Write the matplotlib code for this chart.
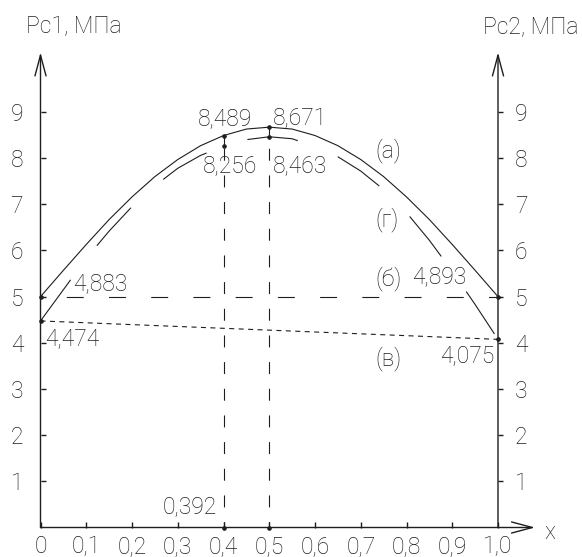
import matplotlib
matplotlib.use('Agg')
import matplotlib.pyplot as plt

plt.rcParams['font.family'] = ['Roboto', 'DejaVu Sans']
plt.rcParams['font.weight'] = 'light'
plt.rcParams['lines.scale_dashes'] = False

# ---------------- data ----------------
x_grid = [0.00, 0.05, 0.10, 0.15, 0.20, 0.25, 0.30, 0.35, 0.40, 0.45, 0.50,
          0.55, 0.60, 0.65, 0.70, 0.75, 0.80, 0.85, 0.90, 0.95, 1.00]
curve_a = [5.000, 5.57, 6.13, 6.67, 7.16, 7.60, 7.97, 8.27, 8.489, 8.63, 8.671,
           8.63, 8.49, 8.27, 7.97, 7.60, 7.16, 6.67, 6.13, 5.57, 5.000]
curve_g = [4.474, 5.15, 5.83, 6.42, 6.95, 7.40, 7.78, 8.06, 8.256, 8.40, 8.463,
           8.42, 8.25, 8.03, 7.72, 7.32, 6.82, 6.22, 5.55, 4.83, 4.075]
line_x = [0.0, 1.0]
line_b = [5.0, 5.0]
line_v = [4.474, 4.075]
mark_x = [0.4, 0.5]
mark_a = [8.489, 8.671]
mark_g = [8.256, 8.463]

x_ticks = [0.0, 0.1, 0.2, 0.3, 0.4, 0.5, 0.6, 0.7, 0.8, 0.9, 1.0]
x_tick_labels = ['0', '0,1', '0,2', '0,3', '0,4', '0,5', '0,6', '0,7', '0,8', '0,9', '1,0']
y_ticks = [1, 2, 3, 4, 5, 6, 7, 8, 9]
y_tick_labels = ['1', '2', '3', '4', '5', '6', '7', '8', '9']

labels = ['8,489', '8,671', '8,256', '8,463', '(а)', '(г)', '(б)', '4,893',
          '(в)', '4,075', '4,883', '4,474', '0,392']
label_x = [0.3443, 0.5082, 0.3552, 0.5075, 0.7311, 0.7311, 0.7311, 0.8114,
           0.7311, 0.8732, 0.0710, 0.0098, 0.2678]
label_y = [8.718, 8.718, 7.70, 7.70, 8.01, 6.515, 5.25, 5.30,
           3.52, 3.59, 5.14, 3.95, 0.31]

C = '#1e1e1e'
FS = 16.5
LW = 0.8

fig = plt.figure(figsize=(5.82, 5.57), dpi=100)
ax = fig.add_axes([40.5 / 582, 29.5 / 557, 457.5 / 582, 461.7 / 557])
ax.set_xlim(0, 1)
ax.set_ylim(0, 10)
for s in ax.spines.values():
    s.set_visible(False)

# curves
ax.plot(x_grid, curve_a, color=C, lw=LW)
ax.plot(x_grid, curve_g, color=C, lw=LW, linestyle=(0, (36.7, 31.0)))
ax.plot(line_x, line_b, color=C, lw=LW, linestyle=(12.2, (12.2, 18.2)))
ax.plot(line_x, line_v, color=C, lw=LW, linestyle=(0, (3.6, 3.2)))

# vertical dashed lines down to the axis
for xm, gm in zip(mark_x, mark_g):
    ax.plot([xm, xm], [0, gm], color=C, lw=LW, linestyle=(4, (8.6, 10.6)))
# short solid segments between curves
for xm, am, gm in zip(mark_x, mark_a, mark_g):
    ax.plot([xm, xm], [gm, am], color=C, lw=LW)

# dots
ax.plot(mark_x + mark_x, mark_a + mark_g, 'o', color=C, ms=2.3, clip_on=False)
ax.plot([0, 0, 1, 1], [curve_a[0], curve_g[0], curve_a[-1], curve_g[-1]], 'o',
        color=C, ms=2.3, clip_on=False, zorder=5)
ax.plot(mark_x, [0, 0], 'o', color=C, ms=2.3, clip_on=False, zorder=5)

# axes with open arrow heads
arrow = dict(arrowstyle='->,head_length=1.5,head_width=0.4', lw=1.0, color=C,
             shrinkA=0, shrinkB=0, mutation_scale=10)
ax.annotate('', xy=(0, 10.29), xytext=(0, 0), arrowprops=arrow, annotation_clip=False)
ax.annotate('', xy=(1, 10.29), xytext=(1, 0), arrowprops=arrow, annotation_clip=False)
ax.annotate('', xy=(1.081, 0), xytext=(0, 0), arrowprops=arrow, annotation_clip=False)

# ticks
ax.set_xticks(x_ticks)
ax.set_xticklabels(x_tick_labels)
ax.set_yticks(y_ticks)
ax.set_yticklabels(y_tick_labels)
ax.tick_params(axis='x', direction='in', length=4, width=1, color=C, pad=5.5,
               labelsize=FS, labelcolor=C)
ax.tick_params(axis='y', direction='in', length=3.6, width=1, color=C, pad=12.5,
               labelsize=FS, labelcolor=C)

ax2 = ax.twinx()
ax2.set_ylim(0, 10)
for s in ax2.spines.values():
    s.set_visible(False)
ax2.set_yticks(y_ticks)
ax2.set_yticklabels(y_tick_labels)
ax2.tick_params(axis='y', direction='out', length=3.6, width=1, color=C, pad=8.5,
                labelsize=FS, labelcolor=C)

# annotations
for t, lx, ly in zip(labels, label_x, label_y):
    ax.text(lx, ly, t, ha='left', va='baseline', fontsize=FS, color=C)

ax.text(-0.0317, 10.71, 'Рс1, МПа', ha='left', va='baseline', fontsize=FS, color=C, clip_on=False)
ax.text(0.9672, 10.71, 'Рс2, МПа', ha='left', va='baseline', fontsize=FS, color=C, clip_on=False)
ax.text(1.1019, -0.25, 'x', ha='left', va='baseline', fontsize=FS, color=C, clip_on=False)

fig.savefig('out.png', dpi=100)
